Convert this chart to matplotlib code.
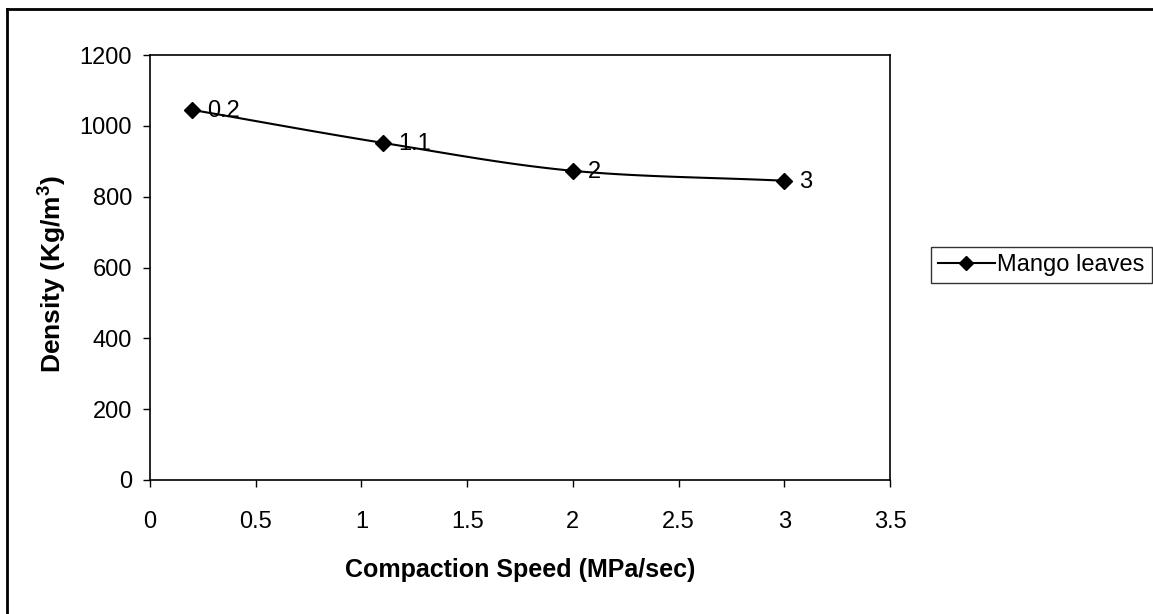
import numpy as np
import matplotlib
matplotlib.use("Agg")
import matplotlib.pyplot as plt
from matplotlib.lines import Line2D

# Data
speed = [0.2, 1.1, 2.0, 3.0]
density = [1045, 952, 873, 845]
point_labels = ["0.2", "1.1", "2", "3"]
series_name = "Mango leaves"
xticks = [0, 0.5, 1, 1.5, 2, 2.5, 3, 3.5]
yticks = [0, 200, 400, 600, 800, 1000, 1200]

plt.rcParams['font.family'] = ['Liberation Sans', 'DejaVu Sans']
plt.rcParams['mathtext.fontset'] = 'custom'
plt.rcParams['mathtext.rm'] = 'Liberation Sans:bold'
plt.rcParams['mathtext.bf'] = 'Liberation Sans:bold'

W, H = 1153, 614
fig = plt.figure(figsize=(W/100, H/100), dpi=100)
ax = fig.add_axes([150/W, 1-480/H, (890-150)/W, (480-55)/H])

# Catmull-Rom smoothing through the data points (like Excel smoothed line)
def smooth(xs, ys, n=30):
    xs = np.asarray(xs, float); ys = np.asarray(ys, float)
    px = np.concatenate([[2*xs[0]-xs[1]], xs, [2*xs[-1]-xs[-2]]])
    py = np.concatenate([[2*ys[0]-ys[1]], ys, [2*ys[-1]-ys[-2]]])
    ox, oy = [], []
    for i in range(1, len(px)-2):
        t = np.linspace(0, 1, n)
        for arr, out in ((px, ox), (py, oy)):
            p0, p1, p2, p3 = arr[i-1], arr[i], arr[i+1], arr[i+2]
            out.extend(0.5*((2*p1) + (-p0+p2)*t + (2*p0-5*p1+4*p2-p3)*t**2 + (-p0+3*p1-3*p2+p3)*t**3))
    return ox, oy

sx, sy = smooth(speed, density)
ax.plot(sx, sy, color='black', lw=1.5)
ax.plot(speed, density, linestyle='none', marker='D', markersize=8.5, color='black')
ax.plot([], [], color='black', lw=1.5, marker='D', markersize=7, label=series_name)

for x, y, lab in zip(speed, density, point_labels):
    ax.annotate(lab, (x, y), xytext=(11, -1), textcoords='offset points',
                fontsize=17, va='center', ha='left')

ax.set_xlim(0, 3.5)
ax.set_ylim(0, 1200)
ax.set_xticks(xticks)
ax.set_xticklabels([f"{t:g}" for t in xticks])
ax.set_yticks(yticks)
ax.tick_params(direction='out', length=5, width=1, labelsize=17)
ax.tick_params(axis='y', pad=8)
ax.tick_params(axis='x', pad=17)
for s in ax.spines.values():
    s.set_linewidth(1.2)
    s.set_color('black')

ax.set_xlabel("Compaction Speed (MPa/sec)", fontsize=18, fontweight='bold')
ax.xaxis.set_label_coords(0.5, -(570-480)/(480-55), transform=ax.transAxes)
ax.xaxis.label.set_va('center')
ax.set_ylabel(r"Density (Kg/m$^{3}$)", fontsize=19, fontweight='bold')
ax.yaxis.set_label_coords(-(150-52)/(890-150), (480-274)/(480-55), transform=ax.transAxes)
ax.yaxis.label.set_va('center')

leg = fig.legend(loc='center left', bbox_to_anchor=(931/W, 1-265/H), fontsize=17,
                 frameon=True, fancybox=False, edgecolor='black', handlelength=2.4,
                 handletextpad=0.1, borderpad=0.3, borderaxespad=0)
leg.get_frame().set_linewidth(1.0)

# Chart-area border (left and top visible in the scan)
fig.add_artist(Line2D([7/W, 7/W], [0, 1-9/H], transform=fig.transFigure, color='black', lw=2))
fig.add_artist(Line2D([7/W, 1], [1-9/H, 1-9/H], transform=fig.transFigure, color='black', lw=2))

fig.savefig("out.png", dpi=100)
